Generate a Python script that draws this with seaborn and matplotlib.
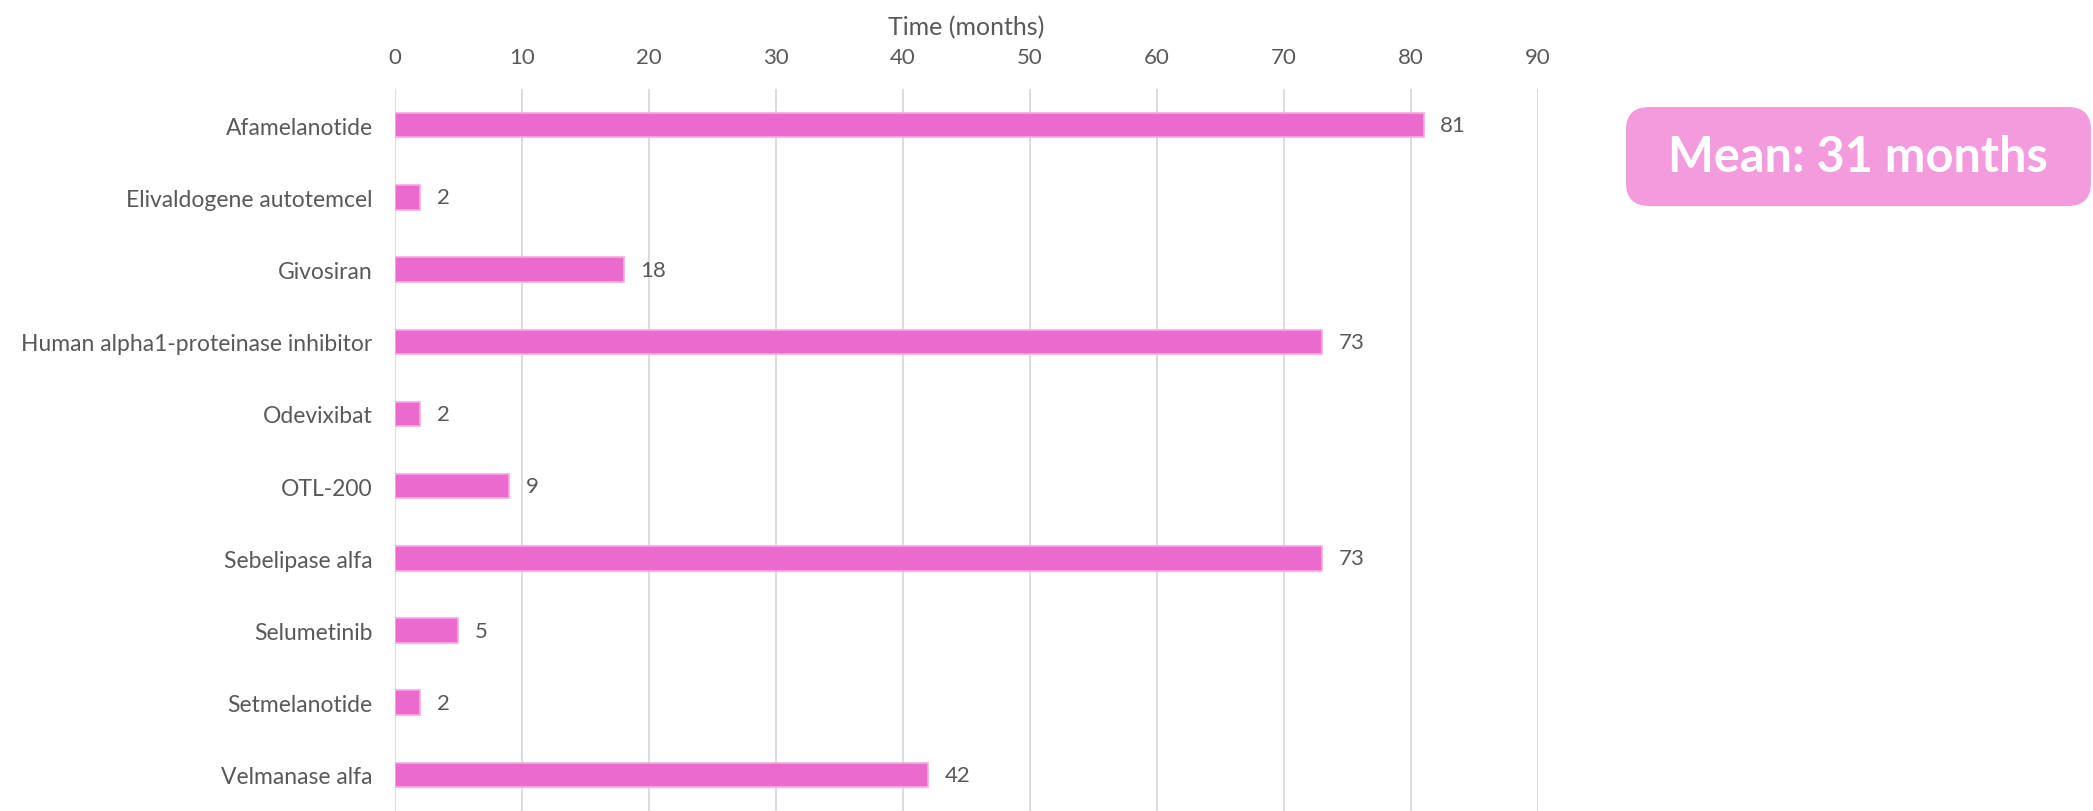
import pandas as pd
import matplotlib
matplotlib.use("Agg")
import matplotlib.pyplot as plt
from matplotlib.patches import FancyBboxPatch
import seaborn as sns

# data
drugs = [
    "Afamelanotide",
    "Elivaldogene autotemcel",
    "Givosiran",
    "Human alpha1-proteinase inhibitor",
    "Odevixibat",
    "OTL-200",
    "Sebelipase alfa",
    "Selumetinib",
    "Setmelanotide",
    "Velmanase alfa",
]
months = [81, 2, 18, 73, 2, 9, 73, 5, 2, 42]
x_ticks = [0, 10, 20, 30, 40, 50, 60, 70, 80, 90]
mean_label = "Mean: 31 months"

BAR = "#EC6ACD"
BOX = "#F39BDC"
TXT = "#595959"
GRID = "#D9D9D9"

sns.set_theme(style="white")
plt.rcParams["font.family"] = ["Lato", "DejaVu Sans"]

df = pd.DataFrame({"drug": drugs, "months": months})

fig = plt.figure(figsize=(20.93, 8.12), dpi=100)
ax = fig.add_axes([0.1887, 0.0, 0.7348 - 0.1887, 0.889])

sns.barplot(data=df, x="months", y="drug", color=BAR, width=0.34,
            saturation=1, edgecolor="#F7A8E3", linewidth=1.2, ax=ax)

ax.set_xlim(0, 90)
ax.set_xticks(x_ticks)
ax.xaxis.tick_top()
ax.xaxis.set_label_position("top")
ax.set_xlabel("Time (months)", fontsize=18, color=TXT, labelpad=9)
ax.set_ylabel("")
ax.tick_params(axis="x", length=0, pad=16, labelsize=16, labelcolor=TXT)
ax.tick_params(axis="y", length=0, pad=16, labelsize=16.5, labelcolor=TXT)
ax.grid(axis="x", color=GRID, linewidth=1.3)
ax.grid(axis="y", visible=False)
ax.set_axisbelow(True)
for s in ax.spines.values():
    s.set_visible(False)

ax.bar_label(ax.containers[0], padding=12, fontsize=16, color=TXT)

# mean call-out box
box = FancyBboxPatch((1626 / 2093, 1 - 207 / 812), 465 / 2093, 99 / 812,
                     boxstyle="round,pad=0,rounding_size=0.011",
                     transform=fig.transFigure, facecolor=BOX,
                     edgecolor="none", mutation_aspect=2093 / 812)
fig.patches.append(box)
fig.text(1858 / 2093, 1 - 157.5 / 812, mean_label, ha="center", va="center",
         fontsize=35, fontweight="bold", color="white")

fig.savefig("out.png", dpi=100)
